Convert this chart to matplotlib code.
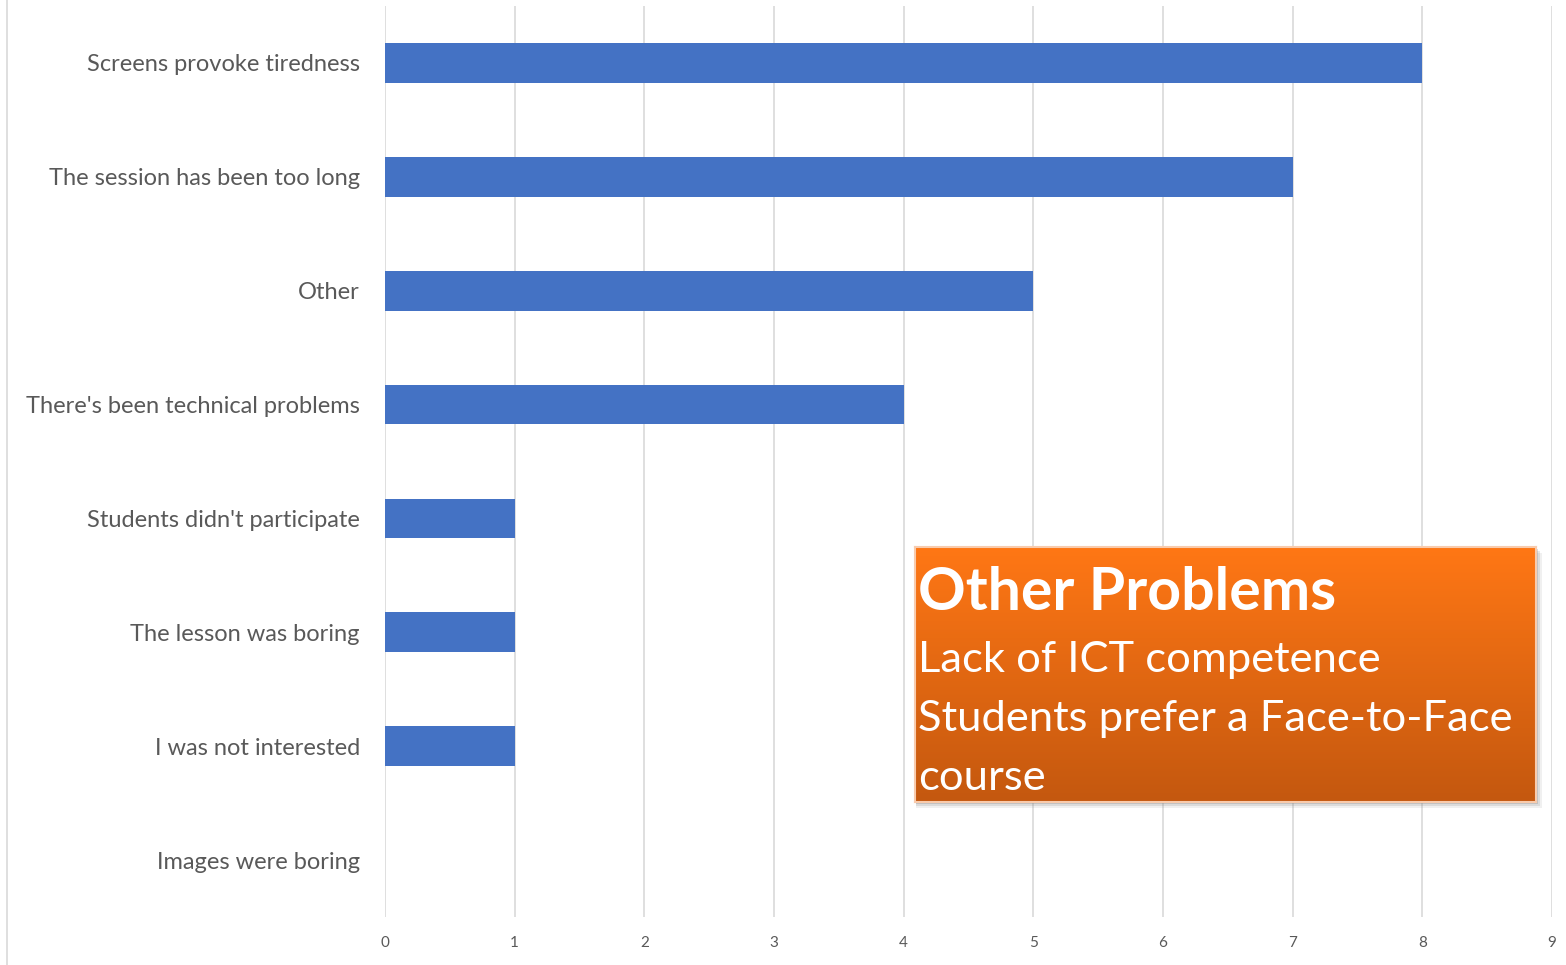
import matplotlib
matplotlib.use("Agg")
import matplotlib.pyplot as plt
import numpy as np
from matplotlib.patches import Rectangle
from matplotlib.colors import LinearSegmentedColormap

categories = ["Screens provoke tiredness", "The session has been too long", "Other",
              "There's been technical problems", "Students didn't participate",
              "The lesson was boring", "I was not interested", "Images were boring"]
values = [8, 7, 5, 4, 1, 1, 1, 0]
xticks = list(range(0, 10))
box_title = "Other Problems"
box_lines = ["Lack of ICT competence", "Students prefer a Face-to-Face", "course"]

W, H = 1566, 965
fig = plt.figure(figsize=(W/100, H/100), dpi=100)
plt.rcParams['font.family'] = ['Lato', 'DejaVu Sans']

ax = fig.add_axes([385/W, 1-917/H, (1552-385)/W, (917-6)/H])
y = np.arange(len(categories))
ax.barh(y, values, height=0.35, color="#4472C4", zorder=3)
ax.set_ylim(len(categories)-0.5, -0.5)
ax.set_xlim(0, 9)
ax.set_xticks(xticks)
ax.set_yticks(y)
ax.set_yticklabels(categories, fontsize=17, color="#595959")
ax.tick_params(axis='x', labelsize=11, colors="#595959", length=0, pad=14)
ax.tick_params(axis='y', length=0, pad=18)
for s in ax.spines.values():
    s.set_visible(False)
ax.grid(axis='x', color="#D9D9D9", linewidth=1.2, zorder=0)

# left border line
fig.add_artist(plt.Line2D([7/W, 7/W], [0, 1], color="#D9D9D9", linewidth=1.2))

# orange box with shadow
bx0, by0, bx1, by1 = 915, 547, 1536, 802
for k, a in [(6, 0.12), (4, 0.2), (2, 0.3)]:
    shadow = Rectangle(((bx0+1)/W, 1-(by1+k)/H), (bx1-bx0+k-1)/W, (by1-by0)/H,
                       transform=fig.transFigure, facecolor="#888888", alpha=a,
                       edgecolor="none", zorder=4)
    fig.add_artist(shadow)
bax = fig.add_axes([bx0/W, 1-by1/H, (bx1-bx0)/W, (by1-by0)/H], zorder=5)
cmap = LinearSegmentedColormap.from_list("og", ["#FF7715", "#C4580F"])
grad = np.linspace(0, 1, 256).reshape(-1, 1)
bax.imshow(grad, aspect='auto', cmap=cmap, extent=[0, 1, 0, 1], origin='upper')
bax.set_xlim(0, 1); bax.set_ylim(0, 1)
bax.set_xticks([]); bax.set_yticks([])
for s in bax.spines.values():
    s.set_color("#F8CBAD"); s.set_linewidth(1.5)
bax.text(0.005, 0.82, box_title, color="white", fontsize=42.5, fontweight='bold',
         va='center', ha='left', transform=bax.transAxes)
for i, line in enumerate(box_lines):
    bax.text(0.005, 0.555 - i*0.23, line, color="white", fontsize=31.3,
             va='center', ha='left', transform=bax.transAxes)

fig.savefig("out.png", dpi=100)
